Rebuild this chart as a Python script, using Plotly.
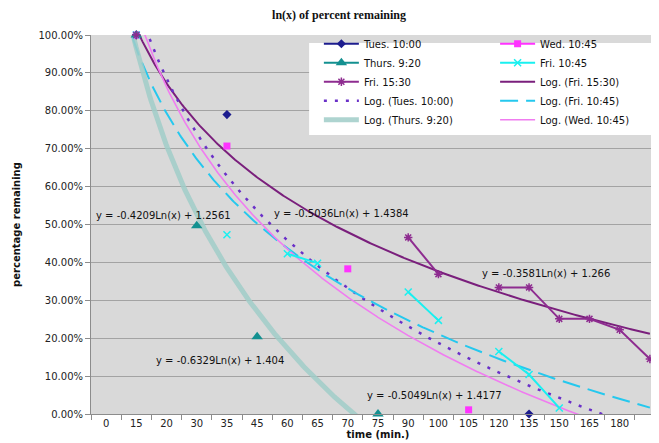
import math
import plotly.graph_objects as go

# ---------------- data ----------------
categories = ["0", "15", "20", "30", "35", "45", "60", "65", "70", "75",
              "90", "100", "105", "120", "135", "150", "165", "180", ""]

tues_1000 = [None, 1.00, None, None, 0.79, None, None, None, None, None,
             None, None, None, None, 0.00, None, None, None, None]
wed_1045 = [None, 1.00, None, None, 0.707, None, None, None, 0.383, None,
            None, None, 0.011, None, None, None, None, None, None]
thurs_0920 = [None, 1.00, None, 0.497, None, 0.204, None, None, None, 0.00,
              None, None, None, None, None, None, None, None, None]
fri_1045 = [None, 1.00, None, None, 0.473, None, 0.423, 0.398, None, None,
            0.322, 0.247, None, 0.165, 0.104, 0.016, None, None, None]
fri_1530 = [None, 1.00, None, None, None, None, None, None, None, None,
            0.466, 0.369, None, 0.334, 0.334, 0.251, 0.251, 0.222, 0.145]

# logarithmic trendlines as shown on the chart: y = a*Ln(x) + b (x = category number)
trend_names = ["Log. (Fri. 15:30)", "Log. (Tues. 10:00)", "Log. (Fri. 10:45)",
               "Log. (Thurs. 9:20)", "Log. (Wed. 10:45)"]
trend_a = [-0.3581, -0.5036, -0.4209, -0.6329, -0.5049]
trend_b = [1.266, 1.4384, 1.2561, 1.404, 1.4177]
trend_labels = ["y = -0.3581Ln(x) + 1.266", "y = -0.5036Ln(x) + 1.4384",
                "y = -0.4209Ln(x) + 1.2561", "y = -0.6329Ln(x) + 1.404",
                "y = -0.5049Ln(x) + 1.4177"]

# ---------------- figure ----------------
idx = list(range(len(categories)))
FONT = "DejaVu Sans"

fig = go.Figure()

# trendlines (x = category number 1..N  -> plotted at index-1)
trend_styles = [
    dict(color="#7a1f7c", width=2, dash="solid"),
    dict(color="#6a30c8", width=2.5, dash="3px,8px"),
    dict(color="#25c8ee", width=2, dash="18px,8px"),
    dict(color="rgba(160,205,200,0.85)", width=5, dash="solid"),
    dict(color="#f07cf0", width=1.6, dash="solid"),
]
trend_legend = ["legend2", "legend", "legend2", "legend", "legend2"]
trend_rank = [3, 4, 4, 5, 5]
n = len(categories)
steps = 400
for k in range(len(trend_names)):
    xs, ys = [], []
    for s in range(steps + 1):
        t = 1 + (n - 1) * s / steps
        xs.append(t - 1)
        ys.append(trend_a[k] * math.log(t) + trend_b[k])
    fig.add_trace(go.Scatter(x=xs, y=ys, mode="lines", name=trend_names[k],
                             line=trend_styles[k], legend=trend_legend[k],
                             legendrank=trend_rank[k], hoverinfo="skip"))

series = [
    ("Tues. 10:00", tues_1000, "#1c1c8e", dict(symbol="diamond", size=7, color="#1c1c8e"), "legend", 1),
    ("Wed. 10:45", wed_1045, "#ff33ff", dict(symbol="square", size=7, color="#ff33ff"), "legend2", 1),
    ("Thurs. 9:20", thurs_0920, "#139090", dict(symbol="triangle-up", size=10, color="#139090"), "legend", 2),
    ("Fri. 10:45", fri_1045, "#19f0f0", dict(symbol="x-thin", size=7, color="#19f0f0",
                                             line=dict(color="#19f0f0", width=1.5)), "legend2", 2),
    ("Fri. 15:30", fri_1530, "#8e2c90", dict(symbol="asterisk", size=7, color="#8e2c90",
                                             line=dict(color="#8e2c90", width=1.5)), "legend", 3),
]
for name, vals, col, mk, lg, rk in series:
    fig.add_trace(go.Scatter(x=idx, y=vals, mode="lines+markers", name=name,
                             line=dict(color=col, width=2), marker=mk,
                             connectgaps=False, cliponaxis=False,
                             legend=lg, legendrank=rk))

# equation labels
eq_pos = [(14.57, 0.372), (7.79, 0.528), (1.90, 0.525), (3.76, 0.140), (10.86, 0.050)]
for lab, (ax_, ay_) in zip(trend_labels, eq_pos):
    fig.add_annotation(x=ax_, y=ay_, text=lab, showarrow=False,
                       font=dict(family=FONT, size=10, color="#111"))

# legend background box
fig.add_shape(type="rect", xref="paper", yref="paper", x0=0.380, x1=1.0,
              y0=0.736, y1=0.979, fillcolor="white", line=dict(width=0), layer="above")

legend_common = dict(bgcolor="rgba(0,0,0,0)", borderwidth=0, orientation="v",
                     xanchor="left", yanchor="top", itemwidth=35, traceorder="normal",
                     tracegroupgap=0, font=dict(family=FONT, size=10, color="#111"))

fig.update_layout(
    width=659, height=443,
    margin=dict(l=83, r=2, t=27, b=37),
    paper_bgcolor="white", plot_bgcolor="#d9d9d9",
    title=dict(text="<b>ln(x) of percent remaining</b>", x=331 / 659, xanchor="center",
               y=1 - 7 / 443, yanchor="middle",
               font=dict(family="Liberation Serif", size=12, color="#111")),
    showlegend=True,
    legend=dict(x=0.397, y=1.015, **legend_common),
    legend2=dict(x=0.704, y=1.015, **legend_common),
    xaxis=dict(range=[-0.5, n - 0.5], tickmode="array", tickvals=idx, ticktext=categories,
               ticks="", showgrid=False, zeroline=False, showline=True, linecolor="#8c8c8c",
               tickfont=dict(family=FONT, size=10, color="#222"),
               minor=dict(tickmode="array", tickvals=[i - 0.5 for i in range(n + 1)],
                          ticks="outside", ticklen=5, tickcolor="#8c8c8c", showgrid=False),
               title=dict(text="<b>time (min.)</b>", standoff=0,
                          font=dict(family=FONT, size=10, color="#111"))),
    yaxis=dict(range=[0, 1], dtick=0.1, tick0=0, tickformat=".2%", showgrid=True,
               gridcolor="#a3a3a3", gridwidth=1, zeroline=False, showline=True,
               linecolor="#8c8c8c", ticks="outside", ticklen=5, tickcolor="#8c8c8c",
               tickfont=dict(family=FONT, size=10, color="#222"),
               title=dict(text="<b>percentage remaining</b>", standoff=16,
                          font=dict(family=FONT, size=10, color="#111"))),
)

fig.write_html("out.html")
